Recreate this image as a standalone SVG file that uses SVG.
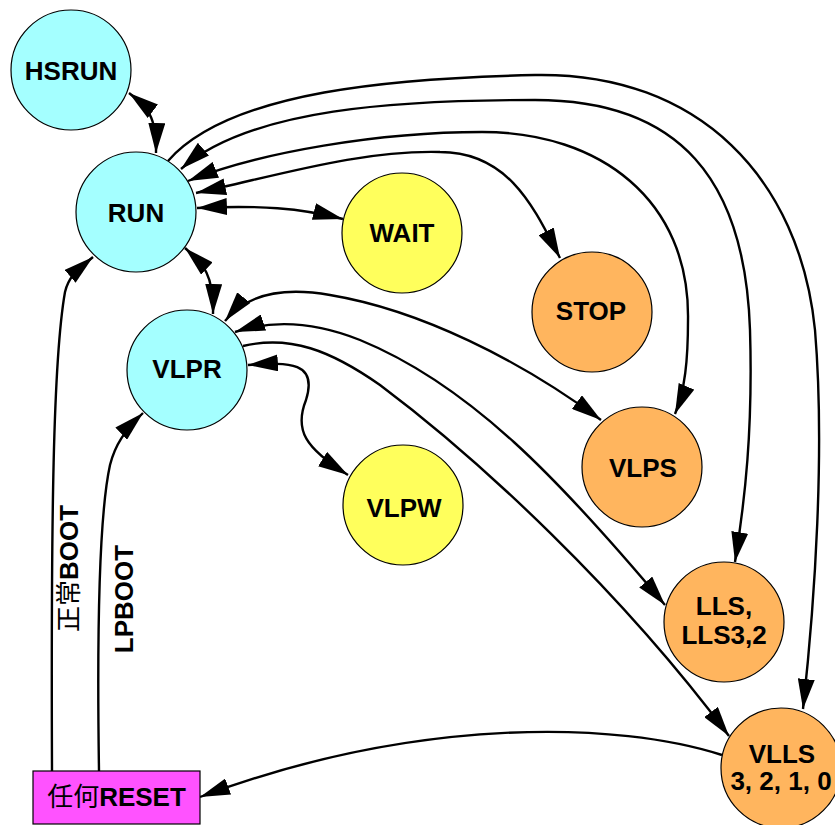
<svg xmlns="http://www.w3.org/2000/svg" width="835" height="825" viewBox="0 0 835 825">
<defs>
<style>
.edge{fill:none;stroke:#000;stroke-width:2.4;marker-end:url(#arrow)}
.both{marker-start:url(#arrow)}
.node circle,.node rect{stroke:#000;stroke-width:1.2}
.cyan{fill:#a4ffff}
.yellow{fill:#ffff5c}
.orange{fill:#ffb55e}
.magenta{fill:#ff52ff}
text{font-family:"Liberation Sans",Arial,"Noto Sans CJK SC",sans-serif;font-weight:bold;font-size:26px;text-anchor:middle;fill:#000}
.cjk{font-weight:normal}
</style>
<marker id="arrow" viewBox="0 0 30 17" markerWidth="30" markerHeight="17" refX="30" refY="8.5" markerUnits="userSpaceOnUse" orient="auto-start-reverse">
<path d="M0,0 L30,8.5 L0,17 Z" fill="#000"/>
</marker>
</defs>
<rect width="835" height="825" fill="#fff"/>
<g id="connectors">
<path id="e-hsrun-run" class="edge both" d="M129,93 C146,106 157,115 156,153"/>
<path id="e-run-wait" class="edge both" d="M197,208 C260,205 300,208 343,219"/>
<path id="e-run-vlpr" class="edge both" d="M185,248 C200,262 214,270 213,314"/>
<path id="e-vlpr-vlpw" class="edge both" d="M248,365 C290,362 318,362 306,400 C294,430 305,448 348,475"/>
<path id="e-reset-run" class="edge" d="M52,771 C51,520 53,360 65,292 C69,275 80,268 93,257"/>
<path id="e-reset-vlpr" class="edge" d="M99,771 C97,640 98,520 110,465 C115,445 125,430 143,413"/>
<path id="e-vlls-reset" class="edge" d="M722,755 C620,722 420,715 200,797"/>
<path id="e-run-vlls" class="edge" d="M168,161 C230,90 400,78 535,75 C700,72 800,180 815,330 C825,450 815,600 803,709"/>
<path id="e-run-lls" class="edge both" d="M181,169 C250,108 400,100 535,100 C680,100 745,180 750,330 C753,430 745,500 735,562"/>
<path id="e-run-vlps" class="edge both" d="M188,181 C260,152 380,132 482,132 C600,132 690,200 688,320 C688,360 685,390 675,414"/>
<path id="e-run-stop" class="edge both" d="M196,193 C280,175 360,150 440,152 C510,152 535,210 560,258"/>
<path id="e-vlpr-vlps" class="edge both" d="M225,321 C250,290 290,288 330,295 C420,310 520,360 601,420"/>
<path id="e-vlpr-lls" class="edge both" d="M235,332 C265,322 305,318 360,340 C470,385 560,480 665,605"/>
<path id="e-vlpr-vlls" class="edge" d="M243,346 C290,335 330,350 380,385 C480,460 620,590 729,736"/>
<text transform="rotate(-90 78 568.5)" x="78" y="568.5"><tspan class="cjk">正常</tspan>BOOT</text>
<text transform="rotate(-90 133 599)" x="133" y="599">LPBOOT</text>
</g>
<g id="node-HSRUN" class="node"><circle class="cyan" cx="71" cy="70" r="60"/><text x="71" y="80">HSRUN</text></g>
<g id="node-RUN" class="node"><circle class="cyan" cx="136" cy="212" r="60"/><text x="136" y="221.5">RUN</text></g>
<g id="node-VLPR" class="node"><circle class="cyan" cx="187" cy="370" r="60"/><text x="187" y="378">VLPR</text></g>
<g id="node-WAIT" class="node"><circle class="yellow" cx="402" cy="233" r="60"/><text x="402" y="242">WAIT</text></g>
<g id="node-VLPW" class="node"><circle class="yellow" cx="403" cy="505" r="60"/><text x="404" y="516.5">VLPW</text></g>
<g id="node-STOP" class="node"><circle class="orange" cx="592" cy="312" r="60"/><text x="591" y="319.5">STOP</text></g>
<g id="node-VLPS" class="node"><circle class="orange" cx="642" cy="467" r="60"/><text x="643" y="476.5">VLPS</text></g>
<g id="node-LLS" class="node"><circle class="orange" cx="724" cy="622" r="60"/><text x="724" y="615">LLS,</text><text x="724" y="643.5">LLS3,2</text></g>
<g id="node-VLLS" class="node"><circle class="orange" cx="781" cy="768" r="60"/><text x="782" y="762.5">VLLS</text><text x="781" y="790">3, 2, 1, 0</text></g>
<g id="node-RESET" class="node"><rect class="magenta" x="33" y="771" width="167" height="53"/><text x="116.5" y="805.5"><tspan class="cjk">任何</tspan>RESET</text></g>
</svg>
